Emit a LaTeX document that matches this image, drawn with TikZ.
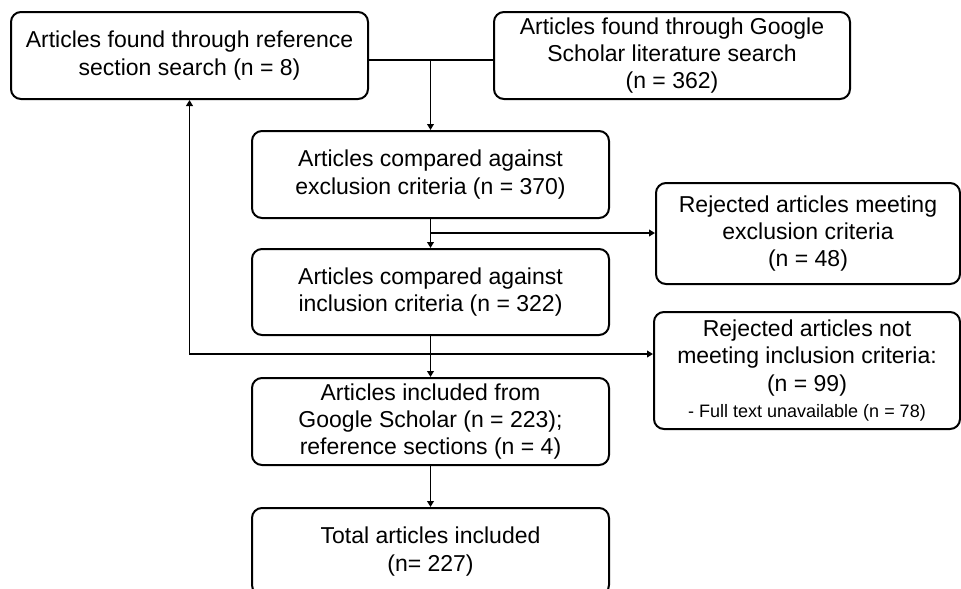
\documentclass[tikz,border=0pt]{standalone}
\usepackage{fontspec}
\setmainfont{Liberation Sans}
\usetikzlibrary{arrows.meta}
\begin{document}
\begin{tikzpicture}[x=0.75pt,y=-0.75pt,
  box/.style={draw, line width=1.5pt, rounded corners=7.5pt, align=center, inner sep=0pt,
    font=\fontsize{17.25}{20.5}\selectfont},
  conn/.style={line width=1.45pt},
  arr/.style={conn, -{Triangle[length=4.5pt,width=5pt]}}]
\useasboundingbox (0,0) rectangle (961,589);
\clip (0,0) rectangle (961,589);
\node[box, minimum width=357*0.75pt, minimum height=87*0.75pt] (A) at (189.5,55.5)
  {Articles found through reference\\section search (n = 8)};
\node[box, minimum width=356*0.75pt, minimum height=87*0.75pt] (B) at (672,55.5)
  {Articles found through Google\\Scholar literature search\\(n = 362)};
\node[box, minimum width=357*0.75pt, minimum height=87*0.75pt] (C) at (430.5,174.5)
  {Articles compared against\\exclusion criteria (n = 370)};
\node[box, minimum width=304*0.75pt, minimum height=101*0.75pt] (E) at (808,233.5)
  {Rejected articles meeting\\exclusion criteria\\(n = 48)};
\node[box, minimum width=357*0.75pt, minimum height=86*0.75pt] (D) at (430.5,292)
  {Articles compared against\\inclusion criteria (n = 322)};
\node[box, minimum width=306*0.75pt, minimum height=117*0.75pt] (G) at (807,370.5)
  {Rejected articles not\\meeting inclusion criteria:\\(n = 99)\\[-1pt]{\fontsize{13.5}{16}\selectfont - Full text unavailable (n = 78)}};
\node[box, minimum width=357*0.75pt, minimum height=87*0.75pt] (F) at (430.5,421.5)
  {Articles included from\\Google Scholar (n = 223);\\reference sections (n = 4)};
\node[box, minimum width=357*0.75pt, minimum height=87*0.75pt] (H) at (430.5,551.5)
  {Total articles included\\(n= 227)};
\coordinate (j) at (430.5,60);
\coordinate (k) at (430.5,233);
\coordinate (m) at (430.5,354);
\draw[conn] (A.east|-j) -- (B.west|-j);
\draw[arr] (j) -- (C.north);
\draw[arr] (C.south) -- (D.north);
\draw[arr] (k) -- (E.west|-k);
\draw[arr] (D.south) -- (F.north);
\draw[arr] (m) -- (G.west|-m);
\draw[arr] (m) -- (A.south|-m) -- (A.south);
\draw[arr] (F.south) -- (H.north);
\end{tikzpicture}
\end{document}
